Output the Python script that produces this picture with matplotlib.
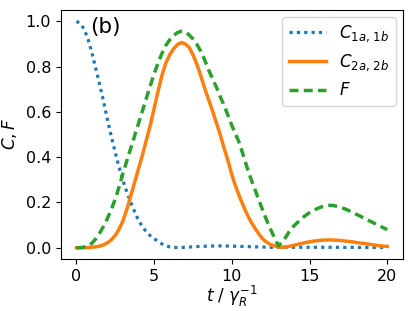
import matplotlib
matplotlib.use("Agg")
import matplotlib.pyplot as plt

t = [0.0, 0.25, 0.5, 0.75, 1.0, 1.25, 1.5, 1.75, 2.0, 2.25, 2.5, 2.75,
     3.0, 3.25, 3.5, 3.75, 4.0, 4.25, 4.5, 4.75, 5.0, 5.25, 5.5, 5.75,
     6.0, 6.25, 6.5, 6.75, 7.0, 7.25, 7.5, 7.75, 8.0, 8.25, 8.5, 8.75,
     9.0, 9.25, 9.5, 9.75, 10.0, 10.25, 10.5, 10.75, 11.0, 11.25, 11.5, 11.75,
     12.0, 12.25, 12.5, 12.75, 13.0, 13.25, 13.5, 13.75, 14.0, 14.25, 14.5, 14.75,
     15.0, 15.25, 15.5, 15.75, 16.0, 16.25, 16.5, 16.75, 17.0, 17.25, 17.5, 17.75,
     18.0, 18.25, 18.5, 18.75, 19.0, 19.25, 19.5, 19.75, 20.0]

c1 = [1.0, 0.99, 0.965, 0.92, 0.86, 0.79, 0.72, 0.645, 0.565, 0.49, 0.42, 0.355,
      0.295, 0.245, 0.2, 0.158, 0.12, 0.093, 0.07, 0.053, 0.04, 0.028, 0.017, 0.009,
      0.004, 0.002, 0.001, 0.001, 0.002, 0.003, 0.004, 0.005, 0.006, 0.0065, 0.007, 0.0075,
      0.008, 0.008, 0.008, 0.0075, 0.007, 0.0065, 0.006, 0.0055, 0.005, 0.0045, 0.004, 0.0035,
      0.003, 0.0025, 0.002, 0.002, 0.002, 0.002, 0.002, 0.002, 0.002, 0.002, 0.002, 0.002,
      0.002, 0.002, 0.002, 0.002, 0.002, 0.002, 0.002, 0.002, 0.0015, 0.0015, 0.0015, 0.0015,
      0.001, 0.001, 0.001, 0.001, 0.001, 0.001, 0.001, 0.001, 0.001]

c2 = [0.0, 0.0, 0.0, 0.001, 0.002, 0.004, 0.007, 0.013, 0.022, 0.035, 0.055, 0.082,
      0.12, 0.17, 0.23, 0.29, 0.35, 0.41, 0.475, 0.54, 0.615, 0.69, 0.76, 0.815,
      0.852, 0.878, 0.897, 0.906, 0.9, 0.885, 0.852, 0.81, 0.76, 0.705, 0.655, 0.605,
      0.553, 0.5, 0.44, 0.385, 0.322, 0.27, 0.225, 0.183, 0.145, 0.112, 0.085, 0.06,
      0.038, 0.024, 0.014, 0.008, 0.003, 0.002, 0.004, 0.007, 0.011, 0.015, 0.019, 0.023,
      0.026, 0.029, 0.031, 0.033, 0.034, 0.0345, 0.034, 0.033, 0.032, 0.030, 0.028, 0.026,
      0.023, 0.021, 0.019, 0.016, 0.014, 0.011, 0.009, 0.007, 0.006]

f = [0.0, 0.0005, 0.003, 0.009, 0.02, 0.04, 0.065, 0.095, 0.13, 0.17, 0.215, 0.27,
     0.33, 0.385, 0.44, 0.495, 0.55, 0.605, 0.66, 0.715, 0.768, 0.815, 0.858, 0.893,
     0.918, 0.937, 0.95, 0.956, 0.953, 0.94, 0.922, 0.898, 0.868, 0.83, 0.786, 0.748,
     0.71, 0.668, 0.628, 0.585, 0.54, 0.5, 0.46, 0.405, 0.35, 0.3, 0.255, 0.208,
     0.163, 0.12, 0.08, 0.043, 0.008, 0.025, 0.05, 0.078, 0.097, 0.113, 0.13, 0.143,
     0.155, 0.165, 0.173, 0.18, 0.184, 0.187, 0.187, 0.183, 0.178, 0.172, 0.165, 0.157,
     0.148, 0.14, 0.131, 0.122, 0.114, 0.105, 0.097, 0.088, 0.08]

labels = [r"$C_{1a,\,1b}$", r"$C_{2a,\,2b}$", r"$F$"]

plt.rcParams['font.size'] = 12
fig = plt.figure(figsize=(4.14, 3.11), dpi=100)
ax = fig.add_axes([0.147, 0.167, 0.826, 0.801])

ax.plot(t, c1, color='#1f77b4', lw=2.3, linestyle=(0, (1, 1.3)),
        label=labels[0])
ax.plot(t, c2, '-', color='#ff7f0e', lw=2.5, label=labels[1])
ax.plot(t, f, color='#2ca02c', lw=2.5, linestyle=(0, (2.6, 1.5)),
        label=labels[2])

ax.set_xlim(-1, 21)
ax.set_ylim(-0.05, 1.05)
ax.set_xticks([0, 5, 10, 15, 20])
ax.set_yticks([0.0, 0.2, 0.4, 0.6, 0.8, 1.0])
ax.tick_params(labelsize=11.5)
ax.set_xlabel(r"$t\ /\ \gamma_R^{-1}$", labelpad=0, fontsize=12)
ax.set_ylabel(r"$C, F$", fontsize=12, labelpad=5)
ax.text(0.085, 0.93, "(b)", transform=ax.transAxes, fontsize=15.5,
        ha='left', va='center')
ax.legend(loc='upper right', fontsize=12, handlelength=2.2,
          borderaxespad=0.42)

fig.savefig("out.png", dpi=100)
